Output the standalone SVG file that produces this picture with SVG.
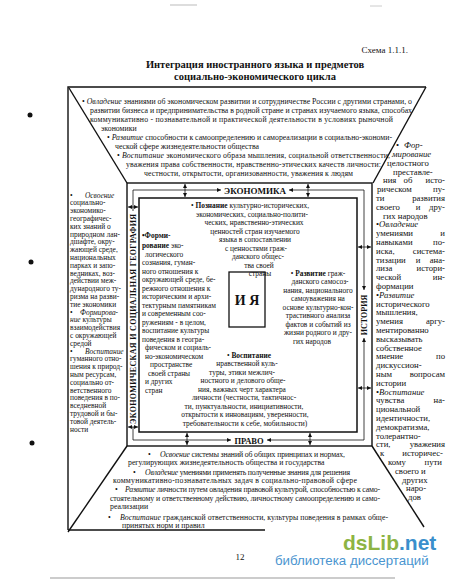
<svg xmlns="http://www.w3.org/2000/svg" width="450" height="581" viewBox="0 0 450 581">
<style>
.t{font-family:"Liberation Serif","Times New Roman",serif;fill:#111}
.f8{font-size:7.8px}
.f7{font-size:7.4px}
.r{font-size:8.7px}
.i{font-style:italic}
.b{font-weight:bold}
.ln{stroke:#111;fill:none}
.k{stroke-width:1.4}
.n{stroke-width:0.8}
.m{text-anchor:middle}
.e{text-anchor:end}
</style>
<defs>
<marker id="ah" viewBox="0 0 10 10" refX="10" refY="5" markerWidth="5" markerHeight="4" markerUnits="userSpaceOnUse" orient="auto-start-reverse"><path d="M0,0 L10,5 L0,10 z" fill="#111"/></marker>
</defs>
<rect width="450" height="581" fill="#fff"/>
<g id="scan">
<line x1="170" y1="5" x2="197" y2="5" stroke="#bbb" stroke-width="1"/>
<line x1="370" y1="6" x2="382" y2="6" stroke="#ccc" stroke-width="1"/>
<line x1="50" y1="578" x2="395" y2="578" stroke="#999" stroke-width="1.2"/>
<circle cx="30" cy="115" r="2.5" fill="#111"/>
<circle cx="31" cy="262" r="2.5" fill="#111"/>
<circle cx="32" cy="443" r="2.5" fill="#111"/>
</g>
<g id="header">
<text class="t" x="408" y="53" font-size="9" text-anchor="end">Схема 1.1.1.</text>
<text class="t b m" x="255" y="68" font-size="10.5">Интеграция иностранного языка и предметов</text>
<text class="t b m" x="255" y="80" font-size="10.5">социально-экономического цикла</text>
</g>
<g id="frame" class="ln k">
<polyline points="68,530 68,87 426,87"/>
<line x1="68" y1="530" x2="265" y2="530"/>
<line x1="69" y1="88" x2="127" y2="183"/>
<line x1="426" y1="87" x2="373" y2="183"/>
<line x1="127" y1="446" x2="68" y2="532"/>
<line x1="372" y1="446" x2="424" y2="527"/>
<rect x="127" y="183" width="245" height="263"/>
</g>
<g id="economics-top" class="t f8">
<text x="82" y="104" textLength="330">• <tspan class="i">Овладение</tspan> знаниями об экономическом развитии и сотрудничестве России с другими странами, о</text>
<text x="90" y="113" textLength="322">развитии бизнеса и предпринимательства в родной стране и странах изучаемого языка, способах</text>
<text x="90" y="122" textLength="303">коммуникативно - познавательной и практической деятельности в условиях рыночной</text>
<text x="101" y="131">экономики</text>
<text x="107" y="140" textLength="285">• <tspan class="i">Развитие</tspan> способности к самоопределению и самореализации в социально-экономи-</text>
<text x="115" y="149">ческой сфере жизнедеятельности общества</text>
<text x="117" y="158" textLength="273">• <tspan class="i">Воспитание</tspan> экономического образа мышления, социальной ответственности,</text>
<text x="126" y="167" textLength="255">уважения права собственности, нравственно-этических качеств личности:</text>
<text x="144" y="176" textLength="209">честности, открытости, организованности, уважения к людям</text>
</g>
<g id="geography-left" class="t f7">
<text x="70" y="197.5">•</text><text x="85" y="197.5" class="i">Освоение</text>
<text x="70" y="205.3">социально-</text>
<text x="70" y="213.1">экономико-</text>
<text x="70" y="220.9">географичес-</text>
<text x="70" y="228.7">ких знаний о</text>
<text x="70" y="236.5">природном лан-</text>
<text x="70" y="244.3">дшафте, окру-</text>
<text x="70" y="252.1">жающей среде,</text>
<text x="70" y="259.9">национальных</text>
<text x="70" y="267.7">парках и запо-</text>
<text x="70" y="275.5">ведниках, воз-</text>
<text x="70" y="283.3">действии меж-</text>
<text x="70" y="291.1">дународного ту-</text>
<text x="70" y="298.9">ризма на разви-</text>
<text x="70" y="306.7">тие экономики</text>
<text x="70" y="314.5">•</text><text x="80" y="314.5" class="i">Формирова-</text>
<text x="70" y="322.3"><tspan class="i">ние</tspan> культуры</text>
<text x="70" y="330.1">взаимодействия</text>
<text x="70" y="337.9">с окружающей</text>
<text x="70" y="345.7">средой</text>
<text x="70" y="353.5">•</text><text x="85" y="353.5" class="i">Воспитание</text>
<text x="70" y="361.3">гуманного отно-</text>
<text x="70" y="369.1">шения к природ-</text>
<text x="70" y="376.9">ным ресурсам,</text>
<text x="70" y="384.7">социально от-</text>
<text x="70" y="392.5">ветственного</text>
<text x="70" y="400.3">поведения в по-</text>
<text x="70" y="408.1">вседневной</text>
<text x="70" y="415.9">трудовой и бы-</text>
<text x="70" y="423.7">товой деятель-</text>
<text x="70" y="431.5">ности</text>
</g>
<g id="history-right" class="t r">
<text x="396" y="148">•</text><text x="404" y="148" class="i">Фор-</text>
<text x="392" y="157" class="i">мирование</text>
<text x="387" y="165.8">целостного</text>
<text x="393" y="174.6">преставле-</text>
<text x="383" y="183.4">ния</text><text x="408" y="183.4" class="m">об</text><text x="445" y="183.4" class="e">исто-</text>
<text x="377" y="192.2">рическом</text><text x="445" y="192.2" class="e">пу-</text>
<text x="376" y="201">ти</text><text x="445" y="201" class="e">развития</text>
<text x="376" y="209.8">своего</text><text x="418" y="209.8" class="m">и</text><text x="445" y="209.8" class="e">дру-</text>
<text x="383" y="218.6">гих народов</text>
<text x="376" y="227.4">•<tspan class="i">Овладение</tspan></text>
<text x="376" y="236.2">умениями</text><text x="445" y="236.2" class="e">и</text>
<text x="376" y="245">навыками</text><text x="445" y="245" class="e">по-</text>
<text x="376" y="253.8">иска,</text><text x="445" y="253.8" class="e">система-</text>
<text x="376" y="262.6">тизации</text><text x="418" y="262.6" class="m">и</text><text x="445" y="262.6" class="e">ана-</text>
<text x="376" y="271.4">лиза</text><text x="445" y="271.4" class="e">истори-</text>
<text x="376" y="280.2">ческой</text><text x="445" y="280.2" class="e">ин-</text>
<text x="376" y="289">формации</text>
<text x="376" y="297.8">•<tspan class="i">Развитие</tspan></text>
<text x="376" y="306.6">исторического</text>
<text x="376" y="315.4">мышления,</text>
<text x="376" y="324.2">умения</text><text x="445" y="324.2" class="e">аргу-</text>
<text x="376" y="333">ментированно</text>
<text x="376" y="341.8">высказывать</text>
<text x="376" y="350.6">собственное</text>
<text x="376" y="359.4">мнение</text><text x="445" y="359.4" class="e">по</text>
<text x="376" y="368.2">дискуссион-</text>
<text x="376" y="377">ным</text><text x="445" y="377" class="e">вопросам</text>
<text x="376" y="385.8">истории</text>
<text x="376" y="394.6">•<tspan class="i">Воспитание</tspan></text>
<text x="376" y="403.4">чувства</text><text x="445" y="403.4" class="e">на-</text>
<text x="376" y="412.2">циональной</text>
<text x="376" y="421">идентичности,</text>
<text x="376" y="429.8">демократизма,</text>
<text x="376" y="438.6">толерантно-</text>
<text x="376" y="447.4">сти,</text><text x="445" y="447.4" class="e">уважения</text>
<text x="380" y="456.2">к</text><text x="443" y="456.2" class="e">историчес-</text>
<text x="388" y="465">кому</text><text x="442" y="465" class="e">пути</text>
<text x="395" y="473.8">своего и</text>
<text x="402" y="482.6">других</text>
<text x="406" y="491.4">наро-</text>
<text x="408" y="500.2">дов</text>
</g>
<g id="law-bottom" class="t f8">
<text x="148" y="457">•</text><text x="160" y="457" textLength="185"><tspan class="i">Освоение</tspan> системы знаний об общих принципах и нормах,</text>
<text x="128" y="465">регулирующих жизнедеятельность общества и государства</text>
<text x="133" y="475">•</text><text x="145" y="475" textLength="205"><tspan class="i">Овладение</tspan> умениями применять полученные знания для решения</text>
<text x="113" y="483" textLength="244">коммуникативно-познавательных задач в социально-правовой сфере</text>
<text x="115" y="492">•</text><text x="125" y="492" textLength="255"><tspan class="i">Развитие</tspan> личности путем овладения правовой культурой, способностью к само-</text>
<text x="110" y="501" textLength="270">стоятельному и ответственному действию, личностному самоопределению и само-</text>
<text x="110" y="509">реализации</text>
<text x="108" y="520">•</text><text x="120" y="520" textLength="268"><tspan class="i">Воспитание</tspan> гражданской ответственности, культуры поведения в рамках обще-</text>
<text x="122" y="528">принятых норм и правил</text>
</g>
<g id="subjects">
<text class="t b m" x="255" y="194" font-size="9">ЭКОНОМИКА</text>
<text class="t b m" x="249" y="443.5" font-size="8.5">ПРАВО</text>
<text class="t b m" font-size="8" transform="translate(136,319) rotate(-90)" textLength="210">ЭКОНОМИЧЕСКАЯ И СОЦИАЛЬНАЯ ГЕОГРАФИЯ</text>
<text class="t b m" font-size="8" transform="translate(367,315) rotate(-90)">ИСТОРИЯ</text>
</g>
<g id="connectors" class="ln n">
<line x1="133" y1="190" x2="221" y2="190" marker-end="url(#ah)"/>
<line x1="364" y1="190" x2="289" y2="190" marker-end="url(#ah)"/>
<line x1="133" y1="440" x2="231" y2="440" marker-end="url(#ah)"/>
<line x1="364" y1="440" x2="267" y2="440" marker-end="url(#ah)"/>
<line x1="133" y1="190" x2="133" y2="211"/>
<line x1="133" y1="440" x2="133" y2="427"/>
<line x1="364" y1="190" x2="364" y2="290" marker-end="url(#ah)"/>
<line x1="364" y1="440" x2="364" y2="338" marker-end="url(#ah)"/>
<line x1="185" y1="184" x2="185" y2="197" marker-start="url(#ah)" marker-end="url(#ah)"/>
<line x1="308" y1="184" x2="308" y2="197" marker-start="url(#ah)" marker-end="url(#ah)"/>
<line x1="187" y1="433" x2="187" y2="445" marker-start="url(#ah)" marker-end="url(#ah)"/>
<line x1="310" y1="433" x2="310" y2="445" marker-start="url(#ah)" marker-end="url(#ah)"/>
<line x1="128" y1="207" x2="138" y2="207" marker-start="url(#ah)" marker-end="url(#ah)"/>
<line x1="128" y1="427" x2="138" y2="427" marker-start="url(#ah)" marker-end="url(#ah)"/>
<line x1="358" y1="247" x2="371" y2="247" marker-start="url(#ah)" marker-end="url(#ah)"/>
<line x1="358" y1="388" x2="371" y2="388" marker-start="url(#ah)" marker-end="url(#ah)"/>
</g>
<g id="center-box">
<rect x="139" y="198" width="218" height="234" class="ln" stroke-width="1.5"/>
<g class="t f7 m">
<text x="250" y="207.5">• <tspan class="b">Познание</tspan> культурно-исторических,</text>
<text x="252" y="216.5">экономических, социально-полити-</text>
<text x="254" y="225">ческих, нравственно-этических</text>
<text x="255" y="233.5">ценностей стран изучаемого</text>
<text x="255" y="242">языка в сопоставлении</text>
<text x="256" y="250.5">с ценностями граж-</text>
<text x="258" y="259">данского общес-</text>
<text x="259" y="267.5">тва своей</text>
<text x="260" y="276">страны</text>
</g>
<g class="t f7">
<text x="142" y="237.5" class="b">•Форми-</text>
<text x="142" y="247.5"><tspan class="b">рование</tspan> эко-</text>
<text x="145" y="256.5">логического</text>
<text x="142" y="265">сознания, гуман-</text>
<text x="142" y="273.5">ного отношения к</text>
<text x="142" y="282">окружающей среде, бе-</text>
<text x="142" y="290.5">режного отношения к</text>
<text x="142" y="299">историческим и архи-</text>
<text x="142" y="307.5">тектурным памятникам</text>
<text x="142" y="316">и современным соо-</text>
<text x="142" y="324.5">ружениям - в целом,</text>
<text x="142" y="333">воспитание культуры</text>
<text x="142" y="341.5">поведения в геогра-</text>
<text x="145" y="350">фическом и социаль-</text>
<text x="145" y="358.5">но-экономическом</text>
<text x="150" y="367">пространстве</text>
<text x="148" y="375.5">своей страны</text>
<text x="145" y="384">и других</text>
<text x="145" y="392.5">стран</text>
</g>
<g class="t f7 m">
<text x="318" y="275.5">• <tspan class="b">Развитие</tspan> граж-</text>
<text x="320" y="284">данского самосоз-</text>
<text x="318" y="292.5">нания, национального</text>
<text x="318" y="301">самоуважения на</text>
<text x="318" y="309.5">основе культурно-кон-</text>
<text x="318" y="318">трастивного анализа</text>
<text x="318" y="326.5">фактов и событий из</text>
<text x="318" y="335">жизни родного и дру-</text>
<text x="312" y="343.5">гих народов</text>
</g>
<g class="t f7 m">
<text x="249" y="357.5">• <tspan class="b">Воспитание</tspan></text>
<text x="247" y="366">нравственной куль-</text>
<text x="242" y="374.5">туры, этики межлич-</text>
<text x="243" y="383">ностного и делового обще-</text>
<text x="242" y="391.5">ния, важных черт характера</text>
<text x="244" y="400">личности (честности, тактичнос-</text>
<text x="244" y="408.5">ти, пунктуальности, инициативности,</text>
<text x="245" y="417">открытости к инновациям, уверенности,</text>
<text x="245" y="425.5">требовательности к себе, мобильности)</text>
</g>
</g>
<g id="me">
<rect x="229" y="272" width="36" height="55" class="ln" stroke-width="1.3"/>
<text class="t b m" x="247" y="305" font-size="14">И Я</text>
</g>
<g id="page">
<text class="t m" x="240" y="560" font-size="9">12</text>
<text x="343" y="550" font-family="'Liberation Sans',Arial,sans-serif" font-weight="bold" font-size="21"><tspan fill="#8db443">dsLib</tspan><tspan fill="#3a8fcc">.net</tspan></text>
<text x="275" y="565" font-family="'Liberation Sans',Arial,sans-serif" font-size="13.3" fill="#4a95d0">библиотека диссертаций</text>
</g>
</svg>
